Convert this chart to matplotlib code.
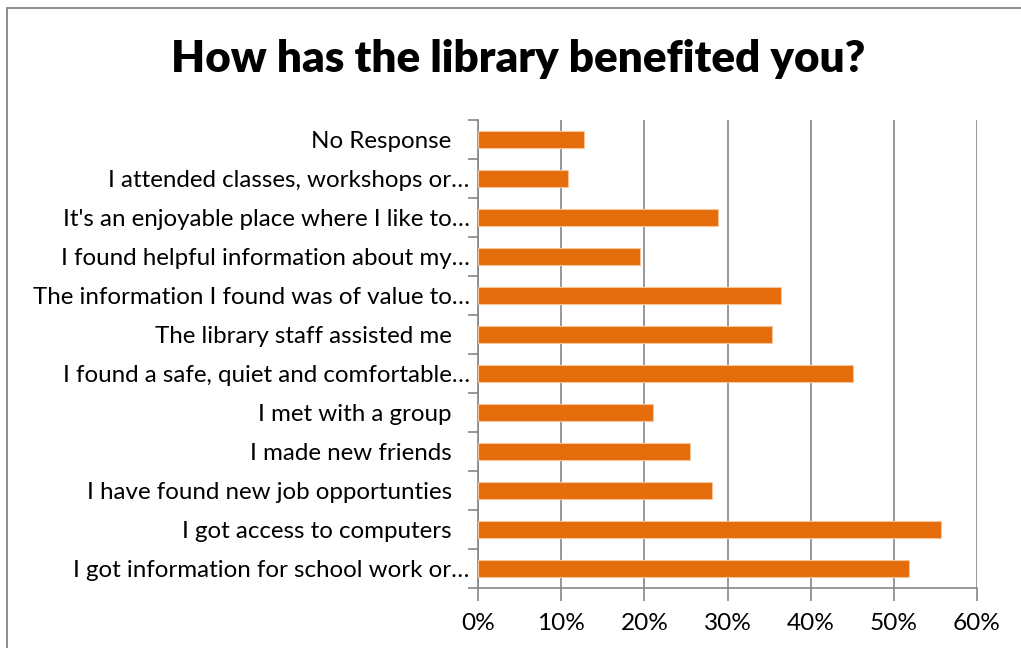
import matplotlib
matplotlib.use("Agg")
import matplotlib.pyplot as plt
from matplotlib.patches import Rectangle
from matplotlib.transforms import ScaledTranslation
from matplotlib.ticker import FixedLocator, FuncFormatter

plt.rcParams['font.family'] = ['Lato', 'DejaVu Sans']

categories = [
    "I got information for school work or…",
    "I got access to computers",
    "I have found new job opportunties",
    "I made new friends",
    "I met with a group",
    "I found a safe, quiet and comfortable…",
    "The library staff assisted me",
    "The information I found was of value to…",
    "I found helpful information about my…",
    "It's an enjoyable place where I like to…",
    "I attended classes, workshops or…",
    "No Response",
]
values = [51.85, 55.63, 28.17, 25.50, 21.05, 45.08, 35.34, 36.45, 19.49, 28.88, 10.81, 12.73]
x_ticks = [0, 10, 20, 30, 40, 50, 60]
title = "How has the library benefited you?"

W, H = 1021, 648
fig = plt.figure(figsize=(W / 100, H / 100), dpi=100)

# outer chart border
fig.patches.append(Rectangle((7 / W, -0.1), 1.2, 1 - 7.5 / H + 0.1,
                             transform=fig.transFigure, fill=False,
                             edgecolor='#868686', linewidth=1.3))

ax = fig.add_axes([478 / W, 1 - 588 / H, (977 - 478) / W, (588 - 120) / H])

grid_c = '#868686'
n = len(categories)
ypos = list(range(n))
ax.barh(ypos, values, height=0.455, color='#E46C0A',
        edgecolor='#F6C59C', linewidth=0.8, zorder=3)

ax.set_xlim(0, 60)
ax.set_ylim(-0.5, n - 0.5)
ax.xaxis.set_major_locator(FixedLocator(x_ticks))
ax.xaxis.set_major_formatter(FuncFormatter(lambda v, p: f"{v:.0f}%"))
ax.grid(axis='x', color=grid_c, linewidth=1.2, zorder=0)

for s in ['top', 'right']:
    ax.spines[s].set_visible(False)
for s in ['left', 'bottom']:
    ax.spines[s].set_color(grid_c)
    ax.spines[s].set_linewidth(1.2)

# category ticks sit between categories; labels centred on bars
ax.set_yticks([i - 0.5 for i in range(n + 1)])
ax.set_yticklabels([])
ax.tick_params(axis='y', which='major', length=7, width=1.2, color=grid_c)
ax.set_yticks(ypos, minor=True)
ax.set_yticklabels(categories, minor=True, fontsize=17.4, color='black')
ax.tick_params(axis='y', which='minor', length=0, pad=6)
ax.tick_params(axis='x', length=9, width=1.2, color=grid_c,
               labelsize=17.6, pad=9, labelcolor='black')

for lab in ax.get_yticklabels(minor=True):
    if not lab.get_text().endswith('…'):
        lab.set_transform(lab.get_transform() +
                          ScaledTranslation(-18 / 100, 0, fig.dpi_scale_trans))

fig.text(518 / W, 1 - 59 / H, title, ha='center', va='center',
         fontsize=31.7, fontweight='heavy', color='black')

fig.savefig('out.png', dpi=100)
